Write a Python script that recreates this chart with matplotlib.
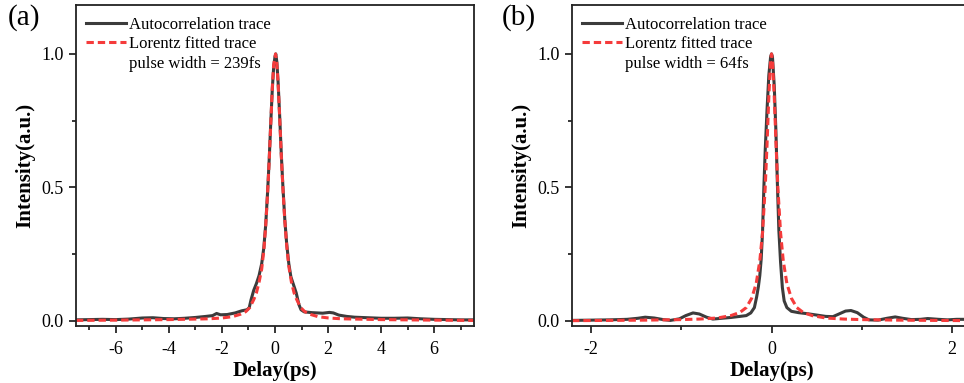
import numpy as np
import matplotlib
matplotlib.use("Agg")
import matplotlib.pyplot as plt
from matplotlib.ticker import MultipleLocator, FormatStrFormatter

plt.rcParams['font.family'] = ['Liberation Serif', 'DejaVu Serif']
plt.rcParams['axes.unicode_minus'] = False

# Panel (a): autocorrelation trace
a_x = [-7.5, -7.0, -6.5, -6.0, -5.5, -5.0, -4.6, -4.2, -3.8, -3.4, -3.0, -2.6,
       -2.35, -2.2, -2.05, -1.8, -1.5, -1.25, -1.05, -0.97, -0.9, -0.8, -0.7,
       -0.6, -0.5, -0.42, -0.35, -0.28, -0.22, -0.16, -0.1, -0.05, 0.0, 0.03,
       0.07, 0.12, 0.18, 0.24, 0.3, 0.37, 0.44, 0.52, 0.6, 0.7, 0.8, 0.9,
       0.98, 1.1, 1.4, 1.8, 2.05, 2.2, 2.4, 2.7, 3.0, 3.5, 4.0, 4.5, 5.0, 5.5,
       6.0, 6.5, 7.0, 7.5]
a_y = [0.004, 0.005, 0.006, 0.005, 0.007, 0.011, 0.012, 0.009, 0.008, 0.010,
       0.013, 0.017, 0.020, 0.028, 0.023, 0.024, 0.030, 0.038, 0.042, 0.050,
       0.080, 0.115, 0.140, 0.170, 0.215, 0.275, 0.360, 0.480, 0.600, 0.740,
       0.870, 0.950, 0.990, 1.000, 0.970, 0.890, 0.760, 0.620, 0.500, 0.380,
       0.290, 0.215, 0.165, 0.135, 0.105, 0.062, 0.042, 0.034, 0.031, 0.029,
       0.032, 0.030, 0.022, 0.017, 0.014, 0.012, 0.010, 0.010, 0.011, 0.008,
       0.006, 0.005, 0.004, 0.004]

# Panel (a): Lorentz fit
a_fit_x = [-7.5, -6.0, -5.0, -4.0, -3.0, -2.5, -2.0, -1.6, -1.3, -1.1, -0.95,
           -0.8, -0.7, -0.6, -0.5, -0.42, -0.35, -0.28, -0.22, -0.16, -0.1,
           -0.05, 0.02, 0.07, 0.12, 0.18, 0.24, 0.3, 0.37, 0.44, 0.52, 0.62,
           0.72, 0.82, 0.97, 1.12, 1.32, 1.62, 2.02, 2.52, 3.02, 4.0, 5.0, 6.0,
           7.5]
a_fit_y = [0.002, 0.003, 0.004, 0.005, 0.007, 0.008, 0.011, 0.016, 0.025,
           0.035, 0.050, 0.080, 0.105, 0.145, 0.195, 0.265, 0.355, 0.475,
           0.595, 0.735, 0.875, 0.960, 1.000, 0.965, 0.885, 0.755, 0.615,
           0.495, 0.375, 0.285, 0.205, 0.145, 0.105, 0.080, 0.050, 0.035,
           0.025, 0.016, 0.011, 0.008, 0.007, 0.005, 0.004, 0.003, 0.002]

# Panel (b): autocorrelation trace
b_x = [-2.21, -2.0, -1.8, -1.6, -1.48, -1.4, -1.3, -1.2, -1.12, -1.02, -0.95,
       -0.87, -0.8, -0.72, -0.65, -0.55, -0.45, -0.35, -0.28, -0.23, -0.19,
       -0.165, -0.145, -0.13, -0.115, -0.10, -0.085, -0.07, -0.05, -0.03,
       -0.01, 0.0, 0.01, 0.03, 0.048, 0.066, 0.081, 0.10, 0.12, 0.14, 0.17,
       0.22, 0.3, 0.4, 0.5, 0.6, 0.68, 0.76, 0.82, 0.88, 0.95, 1.02, 1.08,
       1.18, 1.28, 1.37, 1.45, 1.55, 1.65, 1.73, 1.85, 1.95, 2.05, 2.21]
b_y = [0.002, 0.003, 0.004, 0.006, 0.010, 0.014, 0.011, 0.005, 0.002, 0.008,
       0.020, 0.030, 0.026, 0.014, 0.007, 0.010, 0.013, 0.017, 0.020, 0.030,
       0.050, 0.090, 0.130, 0.170, 0.230, 0.330, 0.500, 0.640, 0.790, 0.920,
       0.990, 1.000, 0.990, 0.880, 0.715, 0.500, 0.340, 0.220, 0.125, 0.075,
       0.050, 0.036, 0.031, 0.027, 0.022, 0.017, 0.016, 0.028, 0.037, 0.039,
       0.031, 0.014, 0.004, 0.003, 0.010, 0.015, 0.010, 0.005, 0.006, 0.009,
       0.006, 0.004, 0.006, 0.006]

# Panel (b): Lorentz fit
b_fit_x = [-2.21, -1.8, -1.4, -1.0, -0.8, -0.6, -0.45, -0.35, -0.28, -0.22,
           -0.17, -0.13, -0.10, -0.07, -0.05, -0.03, -0.01, 0.0, 0.01, 0.03,
           0.05, 0.07, 0.10, 0.13, 0.17, 0.22, 0.28, 0.35, 0.45, 0.6, 0.8,
           1.0, 1.4, 1.8, 2.21]
b_fit_y = [0.001, 0.002, 0.003, 0.005, 0.007, 0.011, 0.020, 0.032, 0.050,
           0.085, 0.140, 0.225, 0.330, 0.500, 0.660, 0.840, 0.980, 1.000,
           0.980, 0.840, 0.660, 0.500, 0.330, 0.225, 0.140, 0.085, 0.050,
           0.032, 0.020, 0.011, 0.007, 0.005, 0.003, 0.002, 0.001]

pulse_widths = ["239fs", "64fs"]
panel_tags = ["(a)", "(b)"]

black = '#3c3c3c'
red = '#f53b3b'

fig = plt.figure(figsize=(9.64, 3.83), dpi=100)
ax_a = fig.add_axes([0.0788, 0.1488, 0.4129, 0.838])
ax_b = fig.add_axes([0.5934, 0.1488, 0.4139, 0.838])

panels = [
    (ax_a, a_x, a_y, a_fit_x, a_fit_y, (-7.5, 7.5)),
    (ax_b, b_x, b_y, b_fit_x, b_fit_y, (-2.21, 2.21)),
]

for i, (ax, x, y, fx, fy, xlim) in enumerate(panels):
    ax.plot(x, y, color=black, lw=2.2, solid_joinstyle='round',
            label='Autocorrelation trace')
    ax.plot(fx, fy, color=red, lw=2.2, dashes=(2.4, 1.3),
            label='Lorentz fitted trace')
    ax.plot([], [], ' ', label='pulse width = ' + pulse_widths[i])

    ax.set_xlim(*xlim)
    ax.set_ylim(-0.019, 1.183)
    ax.xaxis.set_major_locator(MultipleLocator(2))
    ax.xaxis.set_minor_locator(MultipleLocator(1))
    ax.yaxis.set_major_locator(MultipleLocator(0.5))
    ax.yaxis.set_minor_locator(MultipleLocator(0.25))
    ax.yaxis.set_major_formatter(FormatStrFormatter('%.1f'))
    ax.tick_params(which='major', direction='out', length=5, width=1.1,
                   labelsize=13, colors='black', pad=4)
    ax.tick_params(which='minor', direction='out', length=3, width=1.1)
    ax.tick_params(axis='x', which='major', pad=6)
    for s in ax.spines.values():
        s.set_linewidth(1.3)
        s.set_color('#222222')

    ax.set_xlabel('Delay(ps)', fontsize=15, fontweight='bold', labelpad=2)
    ax.set_ylabel('Intensity(a.u.)', fontsize=15, fontweight='bold', labelpad=4)

    ax.legend(loc='upper left', frameon=False, fontsize=12,
              handlelength=2.4, handletextpad=0.2, labelspacing=0.22,
              borderaxespad=0.2, bbox_to_anchor=(0.0, 0.995))

fig.text(0.008, 0.955, panel_tags[0], fontsize=21, va='center', ha='left')
fig.text(0.521, 0.955, panel_tags[1], fontsize=21, va='center', ha='left')

fig.savefig('out.png', dpi=100)
